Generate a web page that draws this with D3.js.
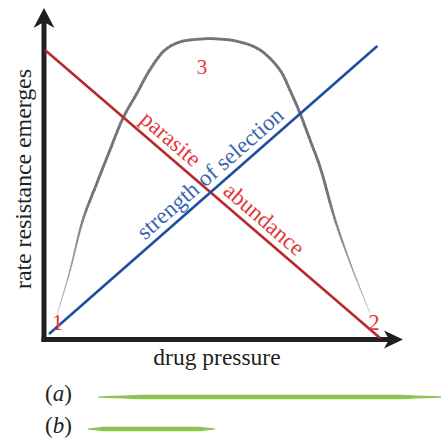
<!DOCTYPE html>
<html>
<head>
<meta charset="utf-8">
<script src="https://cdn.jsdelivr.net/npm/d3@7"></script>
<style>
  body { margin: 0; background: #fff; }
</style>
</head>
<body>
<div class="chart"></div>
<script>
// drug pressure (x) and rate resistance emerges (y), both in 0..1 units
var parasitePressure = [0, 1],
    parasiteRate = [1, 0];
var selectionPressure = [0.012, 0.992],
    selectionRate = [0.014, 1.014];
var emergePressure = [0.036, 0.075, 0.113, 0.155, 0.194, 0.233, 0.275, 0.313, 0.358, 0.403, 0.463,
                      0.522, 0.582, 0.642, 0.701, 0.731, 0.761, 0.791, 0.821, 0.866, 0.919, 0.970],
    emergeRate = [0.080, 0.236, 0.410, 0.538, 0.653, 0.764, 0.851, 0.931, 1.000, 1.028, 1.038,
                  1.038, 1.028, 1.000, 0.931, 0.861, 0.781, 0.688, 0.594, 0.410, 0.236, 0.087];
var pointLabels = ["1", "2", "3"],
    pointPressure = [0.037, 0.982, 0.469],
    pointRate = [0.028, 0.028, 0.917];
var legendLabels = ["a", "b"],
    legendStart = [0.158, 0.128],
    legendEnd = [1.185, 0.507];

var width = 441, height = 441;
var serif = "'Liberation Serif', 'Times New Roman', serif";

var x = d3.scaleLinear().domain([0, 1]).range([45, 380]);
var y = d3.scaleLinear().domain([0, 1]).range([338, 50]);

var svg = d3.select(".chart").append("svg")
    .attr("width", width)
    .attr("height", height);

// axes with arrow heads
var axisColor = "#231f20";
var x0 = 44, y0 = 339.5;
svg.append("line")
    .attr("x1", x0).attr("y1", 20).attr("x2", x0).attr("y2", y0 + 2.5)
    .attr("stroke", axisColor).attr("stroke-width", 5);
svg.append("line")
    .attr("x1", x0 - 2.5).attr("y1", y0).attr("x2", 392).attr("y2", y0)
    .attr("stroke", axisColor).attr("stroke-width", 5);
svg.append("path")
    .attr("d", "M" + x0 + ",8 L" + (x0 + 10.5) + ",28 L" + x0 + ",22 L" + (x0 - 10.5) + ",28 Z")
    .attr("fill", axisColor);
svg.append("path")
    .attr("d", "M403," + y0 + " L384," + (y0 - 9) + " L389," + y0 + " L384," + (y0 + 9) + " Z")
    .attr("fill", axisColor);

// grey curve, tapered near both ends
var curve = d3.line()
    .x(function (d) { return x(d[0]); })
    .y(function (d) { return y(d[1]); })
    .curve(d3.curveCatmullRom.alpha(0.5));
var emergeData = emergePressure.map(function (p, i) { return [p, emergeRate[i]]; });
var guide = svg.append("path").attr("d", curve(emergeData)).attr("fill", "none");
var total = guide.node().getTotalLength(), steps = 160;
var pts = d3.range(steps + 1).map(function (i) { return guide.node().getPointAtLength(total * i / steps); });
guide.remove();
for (var i = 0; i < steps; i++) {
    var t = (i + 0.5) / steps;
    var edge = Math.min(t, 1 - t);
    var w = edge < 0.18 ? 0.7 + 2.1 * edge / 0.18 : 2.8;
    var c = edge < 0.18 ? d3.interpolateRgb("#bdbdbd", "#757575")(edge / 0.18) : "#757575";
    svg.append("line")
        .attr("x1", pts[i].x).attr("y1", pts[i].y)
        .attr("x2", pts[i + 1].x).attr("y2", pts[i + 1].y)
        .attr("stroke", c).attr("stroke-width", w).attr("stroke-linecap", "round");
}

// straight lines
svg.append("line")
    .attr("x1", x(parasitePressure[0])).attr("y1", y(parasiteRate[0]))
    .attr("x2", x(parasitePressure[1])).attr("y2", y(parasiteRate[1]))
    .attr("stroke", "#b8282c").attr("stroke-width", 2.6);
svg.append("line")
    .attr("x1", x(selectionPressure[0])).attr("y1", y(selectionRate[0]))
    .attr("x2", x(selectionPressure[1])).attr("y2", y(selectionRate[1]))
    .attr("stroke", "#1d4f9f").attr("stroke-width", 2.6);

// text placed along a line, offset to one side
function lineLabel(px, py, t, txt, color, side) {
    var ax = x(px[0]), ay = y(py[0]), bx = x(px[1]), by = y(py[1]);
    var ang = Math.atan2(by - ay, bx - ax) * 180 / Math.PI;
    var cx = ax + (bx - ax) * t, cy = ay + (by - ay) * t;
    svg.append("text")
        .attr("transform", "translate(" + cx + "," + cy + ") rotate(" + ang + ")")
        .attr("text-anchor", "middle")
        .attr("dy", side)
        .style("font-family", serif)
        .style("font-size", "23px")
        .attr("fill", color)
        .text(txt);
}
lineLabel(parasitePressure, parasiteRate, 0.347, "parasite", "#e2363a", -7);
lineLabel(parasitePressure, parasiteRate, 0.626, "abundance", "#e2363a", -7);
lineLabel(selectionPressure, selectionRate, 0.52, "strength of selection", "#3a63b4", -7);

// numbered points
svg.selectAll(".num")
    .data(pointLabels)
    .enter().append("text")
    .attr("class", "num")
    .attr("x", function (d, i) { return x(pointPressure[i]); })
    .attr("y", function (d, i) { return y(pointRate[i]); })
    .attr("text-anchor", "middle")
    .style("font-family", serif)
    .style("font-size", function (d, i) { return (i === 2 ? 21 : 23) + "px"; })
    .attr("fill", "#e8393b")
    .text(function (d) { return d; });

// axis titles
svg.append("text")
    .attr("transform", "translate(31,179) rotate(-90)")
    .attr("text-anchor", "middle")
    .attr("textLength", 220)
    .attr("lengthAdjust", "spacing")
    .style("font-family", serif)
    .style("font-size", "24px")
    .attr("fill", axisColor)
    .text("rate resistance emerges");
svg.append("text")
    .attr("x", 217).attr("y", 365)
    .attr("text-anchor", "middle")
    .style("font-family", serif)
    .style("font-size", "23.5px")
    .attr("fill", axisColor)
    .text("drug pressure");

// legend rows with brushed green bars
var legendY = [398, 430];
legendLabels.forEach(function (d, i) {
    var t = svg.append("text")
        .attr("x", 45).attr("y", legendY[i] + 3)
        .style("font-family", serif)
        .style("font-size", "23px")
        .attr("fill", axisColor);
    t.append("tspan").text("(");
    t.append("tspan").style("font-style", "italic").text(d);
    t.append("tspan").text(")");

    var xa = x(legendStart[i]), xb = x(legendEnd[i]);
    var n = 40;
    var top = d3.range(n + 1).map(function (k) {
        var s = k / n, e = Math.min(s, 1 - s);
        var half = e < 0.12 ? 0.6 + 1.6 * e / 0.12 : 2.2;
        return [xa + (xb - xa) * s, legendY[i] - 1 - half];
    });
    var bot = d3.range(n, -1, -1).map(function (k) {
        var s = k / n, e = Math.min(s, 1 - s);
        var half = e < 0.12 ? 0.6 + 1.6 * e / 0.12 : 2.2;
        return [xa + (xb - xa) * s, legendY[i] - 1 + half];
    });
    svg.append("path")
        .attr("d", "M" + top.concat(bot).join("L") + "Z")
        .attr("fill", "#8cc44f");
});
</script>
</body>
</html>
